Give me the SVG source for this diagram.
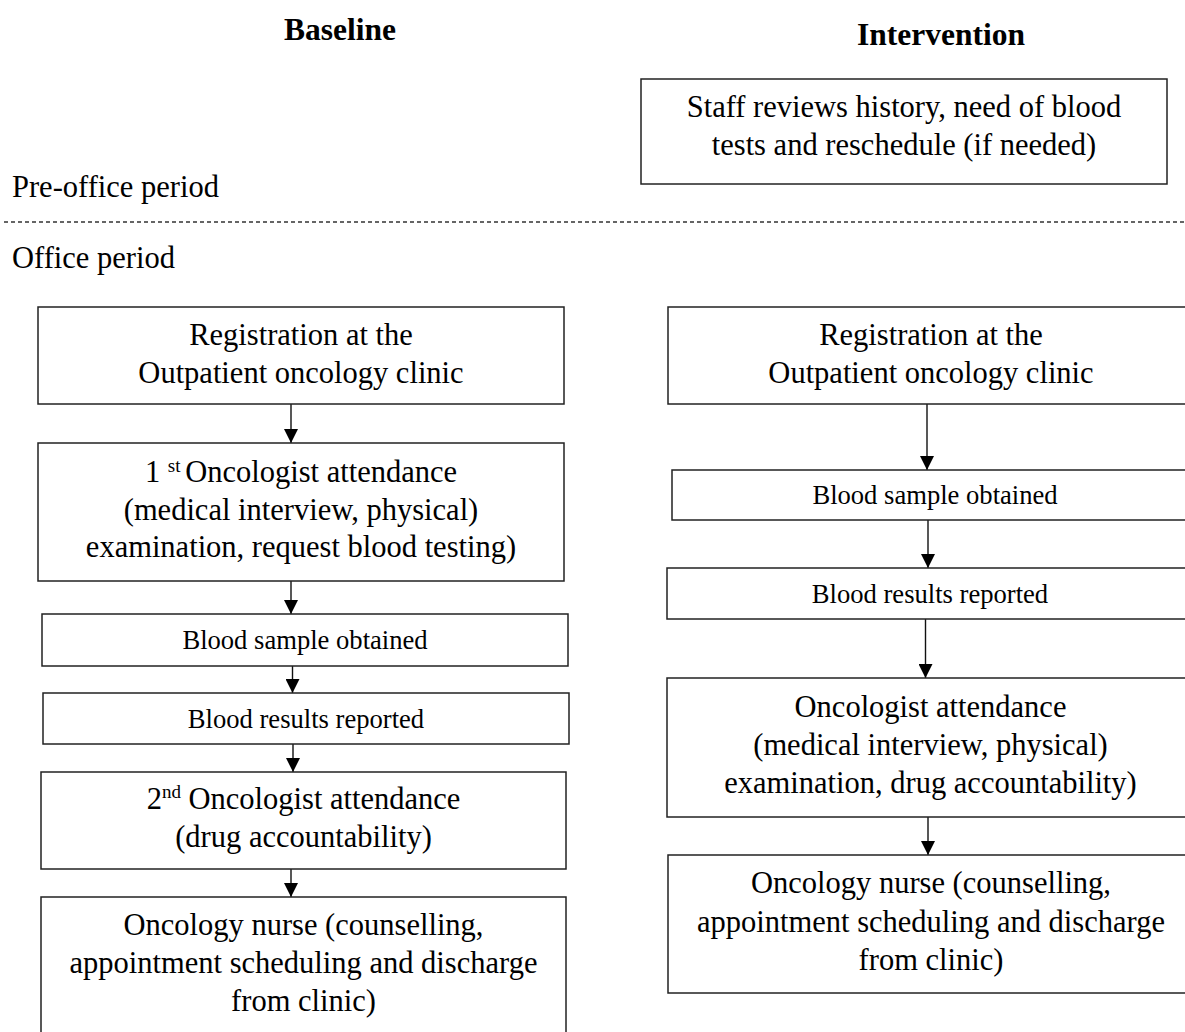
<svg xmlns="http://www.w3.org/2000/svg" width="1185" height="1032" viewBox="0 0 1185 1032">
  <style>
    text { font-family: "Liberation Serif", "Times New Roman", serif; fill: #000; }
    .t { font-size: 30.5px; text-anchor: middle; }
    .s { font-size: 26.6px; text-anchor: middle; }
    .h { font-size: 31.5px; font-weight: bold; text-anchor: middle; }
    .lbl { font-size: 30.5px; }
    .box { fill: #fff; stroke: #222; stroke-width: 1.5; }
    .arr { stroke: #111; stroke-width: 1.4; fill: none; marker-end: url(#ah); }
    .sup { font-size: 19px; }
  </style>
  <defs>
    <marker id="ah" markerUnits="userSpaceOnUse" markerWidth="14" markerHeight="14" refX="14" refY="7" orient="auto">
      <path d="M0,0 L14,7 L0,14 z" fill="#000"/>
    </marker>
  </defs>
  <rect width="1185" height="1032" fill="#fff"/>

  <g id="headings">
    <text class="h" x="340" y="40">Baseline</text>
    <text class="h" x="941" y="45">Intervention</text>
  </g>

  <g id="periods">
    <text class="lbl" x="12" y="197">Pre-office period</text>
    <line x1="4" y1="222" x2="1185" y2="222" stroke="#333" stroke-width="1.3" stroke-dasharray="4 3"/>
    <text class="lbl" x="12" y="268">Office period</text>
  </g>

  <g id="connectors">
    <line class="arr" x1="291" y1="404" x2="291" y2="443"/>
    <line class="arr" x1="291" y1="581" x2="291" y2="614"/>
    <line class="arr" x1="292.5" y1="666" x2="292.5" y2="693"/>
    <line class="arr" x1="293" y1="744" x2="293" y2="772"/>
    <line class="arr" x1="291" y1="869" x2="291" y2="897"/>
    <line class="arr" x1="927" y1="404" x2="927" y2="470"/>
    <line class="arr" x1="928" y1="520" x2="928" y2="568"/>
    <line class="arr" x1="925.5" y1="619" x2="925.5" y2="678"/>
    <line class="arr" x1="928" y1="817" x2="928" y2="855"/>
  </g>

  <g id="staff-review">
    <rect class="box" x="641" y="79" width="526" height="105"/>
    <text class="t" x="904" y="117">Staff reviews history, need of blood</text>
    <text class="t" x="904" y="155">tests and reschedule (if needed)</text>
  </g>

  <g id="b-registration">
    <rect class="box" x="38" y="307" width="526" height="97"/>
    <text class="t" x="301" y="345">Registration at the</text>
    <text class="t" x="301" y="383">Outpatient oncology clinic</text>
  </g>

  <g id="b-first-oncologist">
    <rect class="box" x="38" y="443" width="526" height="138"/>
    <text class="t" x="301" y="482">1 <tspan class="sup" dy="-10">st </tspan><tspan dy="10">Oncologist attendance</tspan></text>
    <text class="t" x="301" y="520">(medical interview, physical)</text>
    <text class="t" x="301" y="557">examination, request blood testing)</text>
  </g>

  <g id="b-blood-sample">
    <rect class="box" x="42" y="614" width="526" height="52"/>
    <text class="s" x="305" y="649">Blood sample obtained</text>
  </g>

  <g id="b-blood-results">
    <rect class="box" x="43" y="693" width="526" height="51"/>
    <text class="s" x="306" y="728">Blood results reported</text>
  </g>

  <g id="b-second-oncologist">
    <rect class="box" x="41" y="772" width="525" height="97"/>
    <text class="t" x="303.5" y="809">2<tspan class="sup" dy="-11">nd</tspan><tspan dy="11"> Oncologist attendance</tspan></text>
    <text class="t" x="303.5" y="847">(drug accountability)</text>
  </g>

  <g id="b-nurse">
    <rect class="box" x="41" y="897" width="525" height="150"/>
    <text class="t" x="303.5" y="935">Oncology nurse (counselling,</text>
    <text class="t" x="303.5" y="973">appointment scheduling and discharge</text>
    <text class="t" x="303.5" y="1011">from clinic)</text>
  </g>

  <g id="i-registration">
    <rect class="box" x="668" y="307" width="540" height="97"/>
    <text class="t" x="931" y="345">Registration at the</text>
    <text class="t" x="931" y="383">Outpatient oncology clinic</text>
  </g>

  <g id="i-blood-sample">
    <rect class="box" x="672" y="470" width="540" height="50"/>
    <text class="s" x="935" y="504">Blood sample obtained</text>
  </g>

  <g id="i-blood-results">
    <rect class="box" x="667" y="568" width="540" height="51"/>
    <text class="s" x="930" y="603">Blood results reported</text>
  </g>

  <g id="i-oncologist">
    <rect class="box" x="667" y="678" width="540" height="139"/>
    <text class="t" x="930.5" y="717">Oncologist attendance</text>
    <text class="t" x="930.5" y="755">(medical interview, physical)</text>
    <text class="t" x="930.5" y="793">examination, drug accountability)</text>
  </g>

  <g id="i-nurse">
    <rect class="box" x="668" y="855" width="540" height="138"/>
    <text class="t" x="931" y="893">Oncology nurse (counselling,</text>
    <text class="t" x="931" y="932">appointment scheduling and discharge</text>
    <text class="t" x="931" y="970">from clinic)</text>
  </g>
</svg>
